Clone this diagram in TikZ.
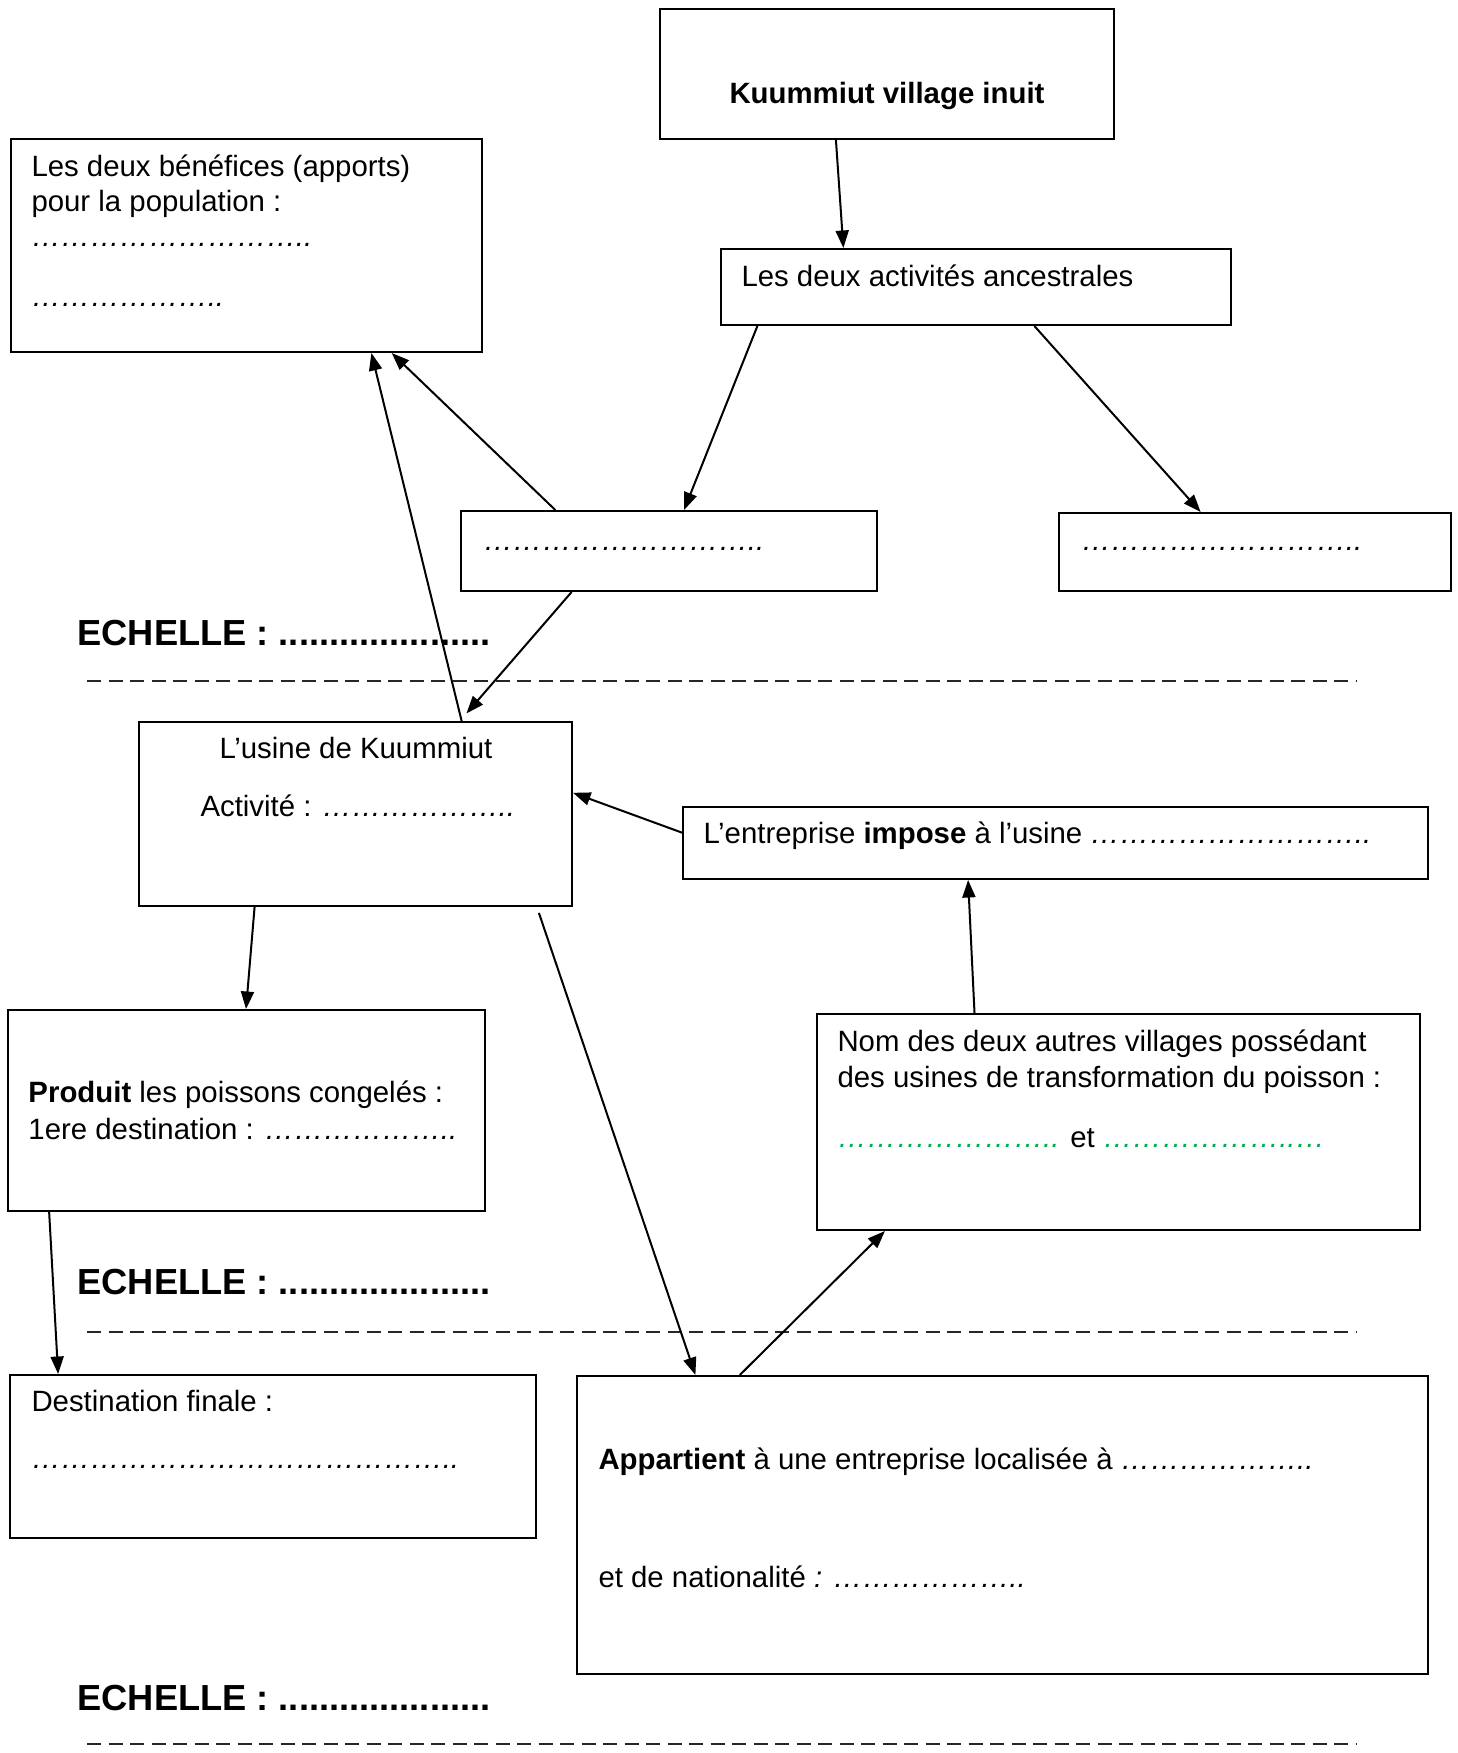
\documentclass[tikz,border=0pt]{standalone}
\usepackage{fontspec}
\setmainfont{Liberation Sans}
\usetikzlibrary{arrows.meta,calc,fit}
\definecolor{wgreen}{RGB}{0,176,80}
\newcommand\Eli{…}
\newcommand\Dsix{\textit{\Eli\Eli\Eli\Eli\Eli\Eli..}}
\newcommand\Dseven{\textit{\Eli\Eli\Eli\Eli\Eli\Eli\Eli..}}
\newcommand\Dsevenb{\textit{\Eli\Eli\Eli\Eli\Eli\Eli..\Eli}}
\newcommand\Dnine{\textit{\Eli\Eli\Eli\Eli\Eli\Eli\Eli\Eli\Eli..}}
\newcommand\Dfourteen{\textit{\Eli\Eli\Eli\Eli\Eli\Eli\Eli\Eli\Eli\Eli\Eli\Eli\Eli\Eli..}}
\begin{document}
\begin{tikzpicture}[x=0.4pt,y=-0.4pt,
  box/.style={draw, line width=0.8pt, inner sep=0pt, fit={#1}},
  txt/.style={anchor=base west, inner sep=0pt, font=\fontsize{11.75pt}{14pt}\selectfont},
  ctxt/.style={anchor=base, inner sep=0pt, font=\fontsize{11.75pt}{14pt}\selectfont},
  ech/.style={anchor=base west, inner sep=0pt, font=\fontsize{14.5pt}{16pt}\selectfont\bfseries},
  arr/.style={-{Triangle[length=7pt,width=5.2pt]}, line width=0.8pt},
  dashline/.style={dash pattern=on 5.6pt off 3pt, line width=0.8pt, black!85}]
\useasboundingbox (0,0) rectangle (1458,1753);

% boxes
\node[box={(660,9) (1114,139)}] (kuum) {};
\node[box={(11,139) (482,352)}] (ben) {};
\node[box={(721,249) (1231,325)}] (act) {};
\node[box={(461,511) (877,591)}] (mid) {};
\node[box={(1059,513) (1451,591)}] (rgt) {};
\node[box={(139,722) (572,906)}] (usine) {};
\node[box={(683,807) (1428,879)}] (entr) {};
\node[box={(817,1014) (1420,1230)}] (nom) {};
\node[box={(8,1010) (485,1211)}] (prod) {};
\node[box={(10,1375) (536,1538)}] (dest) {};
\node[box={(577,1376) (1428,1674)}] (app) {};

% texts
\node[ctxt] (tkuum) at (887,103) {\bfseries Kuummiut village inuit};
\node[txt] (tben1) at (31,176) {Les deux bénéfices (apports)};
\node[txt] (tben2) at (31,211) {pour la population :};
\node[txt] (tben3) at (31,246) {\Dnine};
\node[txt] (tben4) at (31,306) {\Dsix};
\node[txt] (tact) at (741,286) {Les deux activités ancestrales};
\node[txt] (tmid) at (483,550) {\Dnine};
\node[txt] (trgt) at (1081,550) {\Dnine};
\node[ctxt] (tus1) at (356,758) {L’usine de Kuummiut};
\node[txt] (tus2) at (200,816) {Activité : \Dsix};
\node[txt] (tentr) at (703,843) {L’entreprise \textbf{impose} à l’usine \Dnine};
\node[txt] (tnom1) at (837,1051) {Nom des deux autres villages possédant};
\node[txt] (tnom2) at (837,1087) {des usines de transformation du poisson :};
\node[txt] (tnom3) at (837,1147) {\textcolor{wgreen}{\Dseven} et \textcolor{wgreen}{\Dsevenb}};
\node[txt] (tprod1) at (28,1102) {\textbf{Produit} les poissons congelés :};
\node[txt] (tprod2) at (28,1139) {1ere destination : \Dsix};
\node[txt] (tdest1) at (31,1411) {Destination finale :};
\node[txt] (tdest2) at (31,1468) {\Dfourteen};
\node[txt] (tapp1) at (598,1469) {\textbf{Appartient} à une entreprise localisée à \Dsix};
\node[txt] (tapp2) at (598,1587) {et de nationalité \textit{:} \Dsix};

% echelles
\node[ech] (ech1) at (77,645) {ECHELLE : .....................};
\node[ech] (ech2) at (77,1294) {ECHELLE : .....................};
\node[ech] (ech3) at (77,1710) {ECHELLE : .....................};
\coordinate (d1a) at (87,681);  \coordinate (d1b) at (1356,681);
\coordinate (d2a) at (87,1332); \coordinate (d2b) at (1356,1332);
\coordinate (d3a) at (87,1744); \coordinate (d3b) at (1356,1744);
\draw[dashline] (d1a) -- (d1b);
\draw[dashline] (d2a) -- (d2b);
\draw[dashline] (d3a) -- (d3b);

% arrows
\draw[arr] ($(kuum.south west)!0.388!(kuum.south east)$) -- ($(act.north west)!0.241!(act.north east)$);
\draw[arr] ($(act.south west)!0.073!(act.south east)$) -- ($(mid.north west)!0.536!(mid.north east)$);
\draw[arr] ($(act.south west)!0.614!(act.south east)$) -- ($(rgt.north west)!0.362!(rgt.north east)$);
\draw[arr] ($(mid.north west)!0.228!(mid.north east)$) -- ($(ben.south west)!0.807!(ben.south east)$);
\draw[arr] ($(usine.north west)!0.744!(usine.north east)$) -- ($(ben.south west)!0.764!(ben.south east)$);
\draw[arr, shorten >=4pt] ($(mid.south west)!0.267!(mid.south east)$) -- ($(usine.north west)!0.74!(usine.north east)$);
\draw[arr] ($(entr.north west)!0.36!(entr.south west)$) -- ($(usine.north east)!0.386!(usine.south east)$);
\draw[arr] ($(usine.south west)!0.268!(usine.south east)$) -- ($(prod.north west)!0.499!(prod.north east)$);
\draw[arr] ($(prod.south west)!0.088!(prod.south east)$) -- ($(dest.north west)!0.093!(dest.north east)$);
\draw[arr, shorten <=2.5pt] ($(usine.south west)!0.917!(usine.south east)$) -- ($(app.north west)!0.140!(app.north east)$);
\draw[arr] ($(app.north west)!0.192!(app.north east)$) -- ($(nom.south west)!0.114!(nom.south east)$);
\draw[arr] ($(nom.north west)!0.262!(nom.north east)$) -- ($(entr.south west)!0.383!(entr.south east)$);
\end{tikzpicture}
\end{document}
